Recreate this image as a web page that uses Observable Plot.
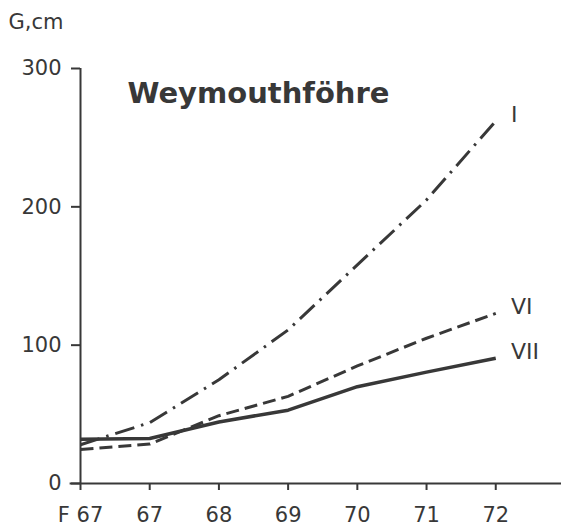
<!DOCTYPE html>
<html>
<head>
<meta charset="utf-8">
<script src="https://cdn.jsdelivr.net/npm/d3@7"></script>
<script src="https://cdn.jsdelivr.net/npm/@observablehq/plot@0.6"></script>
<style>
  html, body { margin: 0; padding: 0; background: #fff; }
</style>
</head>
<body>
<div id="chart"></div>
<script>
// Data
const xIdx = [0, 1, 2, 3, 4, 5, 6];
const xLabels = ["F 67", "67", "68", "69", "70", "71", "72"];
const seriesI   = [28, 44, 75, 111, 158, 205, 262];
const seriesVI  = [24.5, 28.5, 49, 63, 85, 105, 123];
const seriesVII = [32, 32.5, 44.5, 53, 70, 80.5, 90.5];
const seriesNames = ["I", "VI", "VII"];
const yTicks = [0, 100, 200, 300];
const title = "Weymouthföhre";
const yUnit = "G,cm";

const seriesValues = [seriesI, seriesVI, seriesVII];
const dashes = { "I": "20,7,2.5,7", "VI": "13,6", "VII": null };
const rows = seriesNames.flatMap((name, s) =>
  xIdx.map((x, i) => ({ series: name, x, y: seriesValues[s][i] })));
const lastRows = seriesNames.map((name, s) => ({
  series: name, x: xIdx[xIdx.length - 1], y: seriesValues[s][xIdx.length - 1]
}));

const ink = "#383838";
const font = "DejaVu Sans, sans-serif";

const plot = Plot.plot({
  width: 561,
  height: 531,
  marginLeft: 80,
  marginRight: 0,
  marginTop: 68,
  marginBottom: 48,
  style: { fontFamily: font, color: ink, background: "#fff", overflow: "visible" },
  x: { type: "linear", domain: [0, 6.95], axis: null },
  y: { type: "linear", domain: [0, 300], axis: null },
  marks: [
    Plot.ruleY([0], { x1: -0.15, x2: 6.95, stroke: ink, strokeWidth: 2 }),
    Plot.ruleX([0], { y1: 0, y2: 300, stroke: ink, strokeWidth: 2 }),
    Plot.axisY({ ticks: yTicks, tickSize: 9, tickPadding: 10, label: null, fontSize: 21, fill: ink, stroke: ink, strokeWidth: 2 }),
    Plot.axisX({ ticks: xIdx, tickFormat: i => xLabels[i], tickSize: 7, tickPadding: 17, label: null, fontSize: 21, fill: ink, stroke: ink, strokeWidth: 2 }),
    ...seriesNames.map(name =>
      Plot.line(rows.filter(r => r.series === name), {
        x: "x", y: "y", stroke: ink, strokeWidth: name === "VII" ? 3.5 : 3,
        strokeDasharray: dashes[name], strokeLinecap: "butt", curve: "linear"
      })),
    Plot.text(lastRows, {
      x: d => d.x + 0.22, y: "y", dy: -6, text: "series",
      textAnchor: "start", fontSize: 22, fill: ink, fontFamily: font
    }),
    Plot.text([title], {
      frameAnchor: "top-left", dx: 47, dy: 25, textAnchor: "start", lineAnchor: "middle",
      fontSize: 29, fontWeight: "bold", fill: ink, fontFamily: font
    }),
    Plot.text([yUnit], {
      frameAnchor: "top-left", dx: -72, dy: -46, textAnchor: "start", lineAnchor: "middle",
      fontSize: 21, fill: ink, fontFamily: font
    })
  ]
});
document.getElementById("chart").appendChild(plot);
</script>
</body>
</html>
